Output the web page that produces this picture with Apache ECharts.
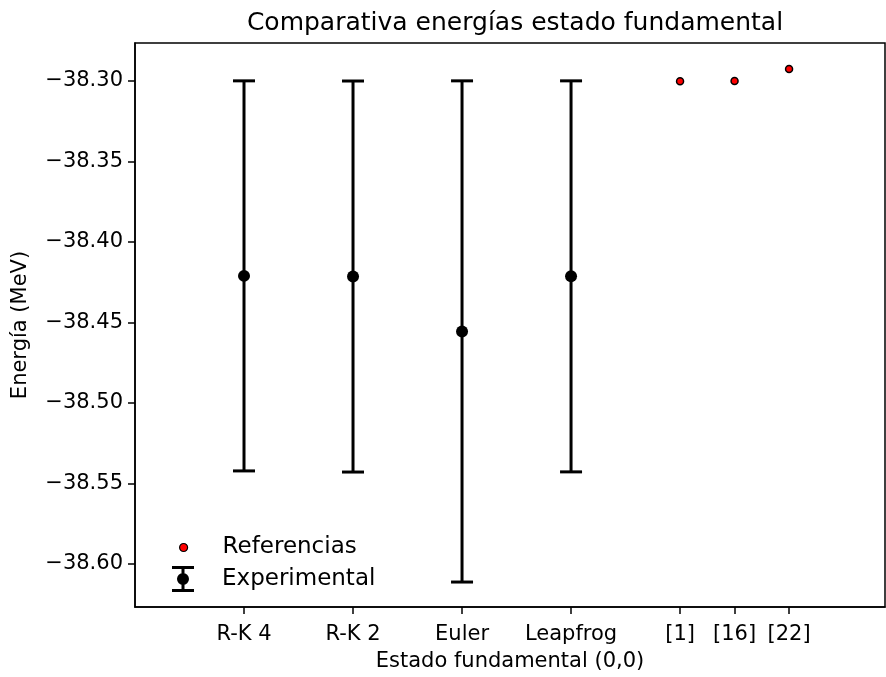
<!DOCTYPE html>
<html>
<head>
<meta charset="utf-8">
<script src="https://cdn.jsdelivr.net/npm/echarts@6/dist/echarts.min.js"></script>
<style>
  html, body { margin: 0; padding: 0; background: #fff; }
  #chart { width: 886px; height: 677px; }
</style>
</head>
<body>
<div id="chart"></div>
<script>
// Simulated ground-state energies (with uncertainty) for each integrator
const expPositions = [0, 1, 2, 3];
const expLabels = ['R-K 4', 'R-K 2', 'Euler', 'Leapfrog'];
const expEnergy = [-38.4211, -38.4215, -38.4556, -38.4214];
const expError = [0.1211, 0.1214, 0.1556, 0.1214];

// Literature reference values
const refPositions = [4, 4.5, 5];
const refLabels = ['[1]', '[16]', '[22]'];
const refEnergy = [-38.3002, -38.3001, -38.2927];

// Y-axis tick values
const yTicks = [-38.30, -38.35, -38.40, -38.45, -38.50, -38.55, -38.60];

const tickPositions = expPositions.concat(refPositions);
const tickLabels = expLabels.concat(refLabels);

const FONT = 'DejaVu Sans';

const expData = expPositions.map((x, i) => [x, expEnergy[i], expError[i]]);
const refData = refPositions.map((x, i) => [x, refEnergy[i]]);

const chart = echarts.init(document.getElementById('chart'), null, { renderer: 'canvas' });

function renderErrorBar(params, api) {
  const x = api.value(0), c = api.value(1), e = api.value(2);
  const pc = api.coord([x, c]);
  const pt = api.coord([x, c + e]);
  const pb = api.coord([x, c - e]);
  const half = 11;
  const lineStyle = { stroke: '#000', lineWidth: 3 };
  return {
    type: 'group',
    children: [
      { type: 'line', shape: { x1: pt[0], y1: pt[1], x2: pb[0], y2: pb[1] }, style: lineStyle },
      { type: 'line', shape: { x1: pt[0] - half, y1: pt[1], x2: pt[0] + half, y2: pt[1] }, style: lineStyle },
      { type: 'line', shape: { x1: pb[0] - half, y1: pb[1], x2: pb[0] + half, y2: pb[1] }, style: lineStyle },
      { type: 'circle', shape: { cx: pc[0], cy: pc[1], r: 6 }, style: { fill: '#000' } }
    ]
  };
}

const errIcon = 'path://M0,0 H22 V3 H0 Z M9.5,3 H12.5 V23 H9.5 Z M0,23 H22 V26 H0 Z M11,7 A6,6 0 1 1 11,19 A6,6 0 1 1 11,7 Z';

const option = {
  backgroundColor: '#fff',
  animation: false,
  textStyle: { fontFamily: FONT },
  title: {
    text: 'Comparativa energías estado fundamental',
    left: 510,
    top: 6,
    textAlign: 'center',
    textStyle: { fontFamily: FONT, fontSize: 25, fontWeight: 'normal', color: '#000' }
  },
  legend: [
    {
      left: 174, top: 531,
      itemWidth: 8, itemHeight: 8,
      data: [{ name: 'Referencias', icon: 'circle', itemStyle: { color: '#ff0000', borderColor: '#000', borderWidth: 1.2, opacity: 1 } }],
      textStyle: { fontFamily: FONT, fontSize: 23, color: '#000', padding: [0, 0, 0, 30] },
      selectedMode: false
    },
    {
      left: 167, top: 561,
      itemWidth: 22, itemHeight: 26,
      data: [{ name: 'Experimental', icon: errIcon, itemStyle: { color: '#000', borderWidth: 0 } }],
      textStyle: { fontFamily: FONT, fontSize: 23, color: '#000', padding: [0, 0, 0, 23] },
      selectedMode: false
    }
  ],
  grid: {
    left: 135, top: 43, right: 1, bottom: 65,
    show: true, borderColor: '#000', borderWidth: 1.5, backgroundColor: 'transparent',
    containLabel: false
  },
  xAxis: {
    type: 'value',
    min: -1, max: 5.88,
    name: 'Estado fundamental (0,0)',
    nameLocation: 'middle',
    nameGap: 44,
    nameTextStyle: { fontFamily: FONT, fontSize: 21, color: '#000' },
    axisLine: { show: true, onZero: false, lineStyle: { color: '#000', width: 1.5 } },
    axisTick: { show: true, length: 7, lineStyle: { color: '#000', width: 1.5 }, customValues: tickPositions },
    axisLabel: {
      fontFamily: FONT, fontSize: 21, color: '#000', margin: 17,
      customValues: tickPositions,
      formatter: v => {
        const i = tickPositions.indexOf(v);
        return i >= 0 ? tickLabels[i] : '';
      }
    },
    splitLine: { show: false }
  },
  yAxis: {
    type: 'value',
    min: -38.6267, max: -38.2765,
    name: 'Energía (MeV)',
    nameLocation: 'middle',
    nameGap: 104,
    nameTextStyle: { fontFamily: FONT, fontSize: 21, color: '#000' },
    axisLine: { show: true, onZero: false, lineStyle: { color: '#000', width: 1.5 } },
    axisTick: { show: true, length: 7, lineStyle: { color: '#000', width: 1.5 }, customValues: yTicks },
    axisLabel: {
      fontFamily: FONT, fontSize: 21, color: '#000', margin: 12,
      customValues: yTicks,
      formatter: v => '\u2212' + Math.abs(v).toFixed(2)
    },
    splitLine: { show: false }
  },
  series: [
    {
      name: 'Referencias',
      type: 'scatter',
      data: refData,
      symbol: 'circle',
      symbolSize: 7,
      itemStyle: { color: '#ff0000', borderColor: '#000', borderWidth: 1.5, opacity: 1 },
      z: 3
    },
    {
      name: 'Experimental',
      type: 'custom',
      data: expData,
      renderItem: renderErrorBar,
      itemStyle: { color: '#000' },
      encode: { x: 0, y: 1 },
      z: 2
    }
  ]
};

chart.setOption(option);
</script>
</body>
</html>
